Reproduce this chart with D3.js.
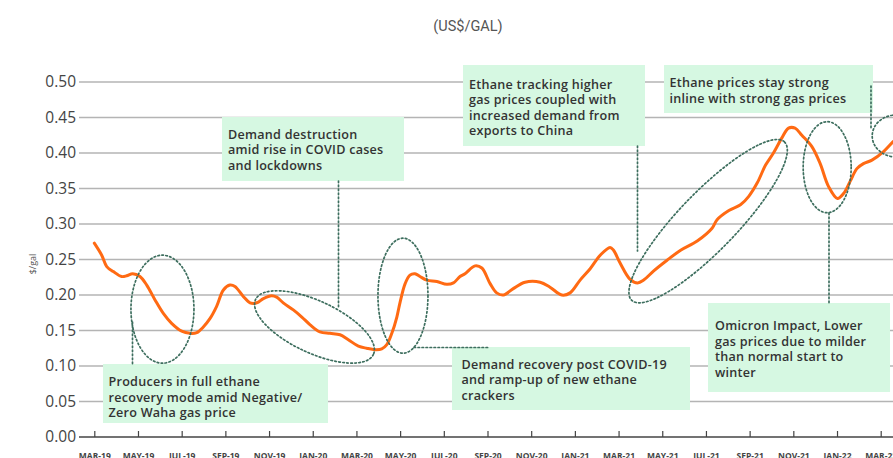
<!DOCTYPE html>
<html>
<head>
<meta charset="utf-8">
<script src="https://cdn.jsdelivr.net/npm/d3@7/dist/d3.min.js"></script>
<style>
  html, body { margin: 0; padding: 0; background: #fff; }
  svg { display: block; }
</style>
</head>
<body>
<svg id="chart" width="893" height="458"></svg>
<script>
// Ethane price, US$/gal. Time is measured in months elapsed since March 2019.
const monthOffset = [
  0, 0.34, 0.57, 0.87, 1.25, 1.48, 1.76, 2.09, 2.40, 2.78, 3.16, 3.54, 4.0, 4.38, 4.69,
  4.99, 5.30, 5.60, 5.91, 6.21, 6.44, 6.82, 7.13, 7.44, 7.74, 8.12, 8.35, 8.65, 9.11,
  9.50, 9.88, 10.33, 10.79, 11.25, 11.63, 12.09, 12.47, 12.85, 13.16, 13.39, 13.62,
  13.85, 14.0, 14.23, 14.45, 14.68, 14.91, 15.22, 15.68, 16.14, 16.44, 16.74, 16.97,
  17.43, 17.74, 18.12, 18.42, 18.73, 19.18, 19.72, 20.41, 20.86, 21.40, 21.78, 22.24,
  22.70, 23.16, 23.61, 23.77, 24.07, 24.53, 24.87, 25.15, 25.61, 26.22, 26.84, 27.60,
  28.28, 28.51, 29.05, 29.58, 29.96, 30.35, 30.73, 31.09, 31.47, 31.78, 32.08, 32.39,
  32.85, 33.23, 33.61, 34.02, 34.30, 34.60, 34.91, 35.21, 35.60, 36.13, 36.57, 36.9
];
const ethanePrice = [
  0.273, 0.256, 0.240, 0.233, 0.226, 0.227, 0.230, 0.226, 0.214, 0.193, 0.174, 0.160, 0.149, 0.146, 0.147,
  0.155, 0.167, 0.184, 0.207, 0.214, 0.212, 0.198, 0.189, 0.189, 0.195, 0.199, 0.197, 0.189, 0.179,
  0.169, 0.158, 0.148, 0.146, 0.144, 0.137, 0.128, 0.125, 0.123, 0.124, 0.130, 0.146,
  0.169, 0.190, 0.216, 0.228, 0.230, 0.226, 0.221, 0.219, 0.215, 0.217, 0.226, 0.230,
  0.241, 0.238, 0.216, 0.203, 0.200, 0.209, 0.218, 0.218, 0.211, 0.200, 0.203, 0.221,
  0.237, 0.256, 0.267, 0.263, 0.245, 0.222, 0.217, 0.221, 0.234, 0.249, 0.263, 0.276,
  0.294, 0.306, 0.319, 0.327, 0.339, 0.358, 0.383, 0.400, 0.421, 0.435, 0.435, 0.425,
  0.409, 0.385, 0.353, 0.336, 0.343, 0.360, 0.378, 0.385, 0.390, 0.402, 0.416, 0.425
];

// Axis ticks
const tickMonths = [0, 2, 4, 6, 8, 10, 12, 14, 16, 18, 20, 22, 24, 26, 28, 30, 32, 34, 36];
const tickLabels = ["MAR-19", "MAY-19", "JUL-19", "SEP-19", "NOV-19", "JAN-20", "MAR-20",
  "MAY-20", "JUL-20", "SEP-20", "NOV-20", "JAN-21", "MAR-21", "MAY-21", "JUL-21",
  "SEP-21", "NOV-21", "JAN-22", "MAR-22"];
const yTicks = [0, 0.05, 0.10, 0.15, 0.20, 0.25, 0.30, 0.35, 0.40, 0.45, 0.50];

// Callout texts
const calloutTexts = [
  ["Demand destruction", "amid rise in COVID cases", "and lockdowns"],
  ["Ethane tracking higher", "gas prices coupled with", "increased demand from", "exports to China"],
  ["Ethane prices stay strong", "inline with strong gas prices"],
  ["Producers in full ethane", "recovery mode amid Negative/", "Zero Waha gas price"],
  ["Demand recovery post COVID-19", "and ramp-up of new ethane", "crackers"],
  ["Omicron Impact, Lower", "gas prices due to milder", "than normal start to", "winter"]
];

const svg = d3.select("#chart");
const W = 893, H = 458;

const x = d3.scaleLinear().domain([0, 36]).range([94.3, 880.7]);
const y = d3.scaleLinear().domain([0, 0.5]).range([437, 82]);
const plotLeft = 79;

// Title
svg.append("text")
  .attr("x", 468).attr("y", 31)
  .attr("text-anchor", "middle")
  .attr("font-family", "Roboto, sans-serif")
  .attr("font-size", 14.5)
  .attr("fill", "#555")
  .text("(US$/GAL)");

// Y axis title
svg.append("text")
  .attr("transform", "translate(36,264) rotate(-90)")
  .attr("text-anchor", "middle")
  .attr("font-family", "'Open Sans', sans-serif")
  .attr("font-size", 9)
  .attr("fill", "#555")
  .text("$/gal");

// Gridlines
svg.append("g")
  .selectAll("line")
  .data(yTicks.filter(d => d > 0))
  .join("line")
  .attr("x1", plotLeft).attr("x2", W)
  .attr("y1", d => y(d)).attr("y2", d => y(d))
  .attr("stroke", "#b4b4b4").attr("stroke-width", 1.4);

// Y axis labels
const yAxis = d3.axisLeft(y).tickValues(yTicks).tickSize(0).tickPadding(3)
  .tickFormat(d3.format(".2f"));
const gy = svg.append("g").attr("transform", `translate(${plotLeft},0)`).call(yAxis);
gy.select(".domain").remove();
gy.selectAll("text")
  .attr("font-family", "'Open Sans', sans-serif")
  .attr("font-size", 15.5)
  .attr("fill", "#444");

// X axis with inward ticks
const xAxis = d3.axisBottom(x).tickValues(tickMonths).tickSize(-6).tickPadding(0)
  .tickFormat((d, i) => tickLabels[i]);
const gx = svg.append("g").attr("transform", `translate(0,${y(0)})`).call(xAxis);
gx.select(".domain").attr("d", `M${plotLeft},0H${W}`).attr("stroke", "#444").attr("stroke-width", 1.4);
gx.selectAll(".tick line").attr("stroke", "#444").attr("stroke-width", 1.2);
gx.selectAll(".tick text")
  .attr("y", 21.5).attr("dy", 0)
  .attr("font-family", "'Open Sans', sans-serif")
  .attr("font-weight", 700)
  .attr("font-size", 8.5)
  .attr("fill", "#444");

// Callout boxes
const boxes = [
  { x: 222, y: 117, w: 182, h: 64, tx: 228, ty: 138.5 },
  { x: 463, y: 65, w: 182, h: 81, tx: 469, ty: 88.5 },
  { x: 664, y: 65, w: 209, h: 48, tx: 669.5, ty: 87 },
  { x: 103, y: 364, w: 225, h: 59, tx: 108.5, ty: 386 },
  { x: 452, y: 347, w: 238, h: 63, tx: 461.5, ty: 368.5 },
  { x: 708, y: 303, w: 182, h: 89, tx: 715, ty: 330 }
];
const lineGap = 15.6;

const gBoxes = svg.append("g");
boxes.forEach((b, i) => {
  gBoxes.append("rect")
    .attr("x", b.x).attr("y", b.y).attr("width", b.w).attr("height", b.h)
    .attr("fill", "#d6f8e2");
});

// Price line
const line = d3.line()
  .x((d, i) => x(monthOffset[i]))
  .y(d => y(d))
  .curve(d3.curveCatmullRom.alpha(0.5));
svg.append("path")
  .datum(ethanePrice)
  .attr("d", line)
  .attr("fill", "none")
  .attr("stroke", "#ff6a13")
  .attr("stroke-width", 3)
  .attr("stroke-linejoin", "round")
  .attr("stroke-linecap", "round");

// Dotted ellipses around highlighted periods (centre in data units, radii in px)
const ellipses = [
  { m: 3.12, v: 0.180, rx: 31.5, ry: 54, rot: 0 },
  { m: 10.08, v: 0.155, rx: 65, ry: 26, rot: 25 },
  { m: 14.13, v: 0.199, rx: 25, ry: 57.5, rot: 0 },
  { m: 28.1, v: 0.304, rx: 110, ry: 29, rot: -46 },
  { m: 33.55, v: 0.380, rx: 24, ry: 45.5, rot: 0 },
  { m: 36.71, v: 0.424, rx: 24, ry: 21, rot: 0 }
];
const dotStyle = sel => sel
  .attr("fill", "none")
  .attr("stroke", "#3d6e5e")
  .attr("stroke-width", 1.7)
  .attr("stroke-dasharray", "1.6,2.4")
  .attr("stroke-linecap", "round");

svg.append("g").selectAll("ellipse")
  .data(ellipses)
  .join("ellipse")
  .attr("transform", d => `translate(${x(d.m)},${y(d.v)}) rotate(${d.rot})`)
  .attr("rx", d => d.rx).attr("ry", d => d.ry)
  .call(dotStyle);

// Leader lines joining callouts and ellipses
const leaders = [
  [132.5, 322, 132.5, 364],
  [338.5, 181, 338.5, 307],
  [414, 347.5, 488, 347.5],
  [637.5, 146, 637.5, 251],
  [829, 213, 829, 303],
  [871, 86, 871, 130]
];
svg.append("g").selectAll("line")
  .data(leaders)
  .join("line")
  .attr("x1", d => d[0]).attr("y1", d => d[1])
  .attr("x2", d => d[2]).attr("y2", d => d[3])
  .call(dotStyle);

// Callout text
boxes.forEach((b, i) => {
  const t = svg.append("text")
    .attr("font-family", "'Open Sans', sans-serif")
    .attr("font-size", 12.6)
    .attr("font-weight", 600)
    .attr("letter-spacing", 0.25)
    .attr("fill", "#333");
  calloutTexts[i].forEach((s, j) => {
    t.append("tspan").attr("x", b.tx).attr("y", b.ty + j * lineGap).text(s);
  });
});
</script>
</body>
</html>
